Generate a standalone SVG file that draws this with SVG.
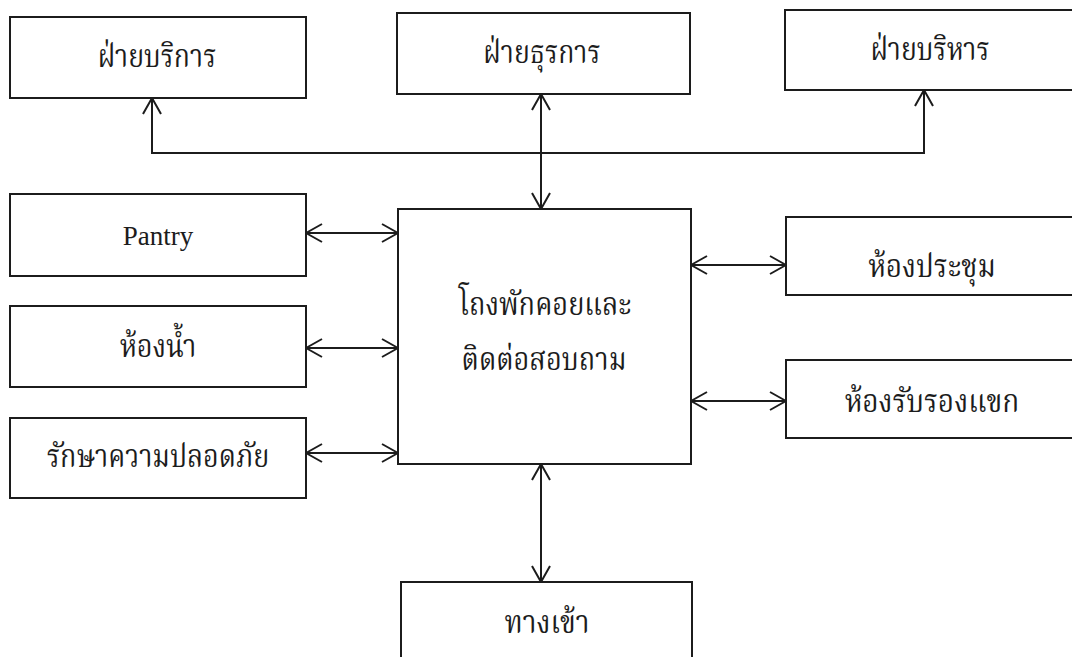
<svg xmlns="http://www.w3.org/2000/svg" width="1072" height="657" viewBox="0 0 1072 657">
  <style>
    .box { fill: #ffffff; stroke: #1c1c1c; stroke-width: 2; }
    .lbl { font-family: "Noto Serif Thai", "Noto Sans Thai", "Liberation Serif", serif; font-size: 28px; fill: #1c1c1c; text-anchor: middle; }
    .en { font-family: "Liberation Serif", serif; font-size: 27px; fill: #1c1c1c; text-anchor: middle; }
    .link { fill: none; stroke: #1c1c1c; stroke-width: 2; marker-start: url(#v); marker-end: url(#v); }
    .bus { fill: none; stroke: #1c1c1c; stroke-width: 2; marker-start: url(#v); marker-end: url(#v); stroke-linejoin: miter; }
  </style>
  <defs>
    <!-- open "V" arrowhead, reversed at the start of a line -->
    <marker id="v" viewBox="0 0 18 20" refX="17" refY="10" markerWidth="18" markerHeight="20" markerUnits="userSpaceOnUse" orient="auto-start-reverse">
      <path d="M1,1 L17,10 L1,19" fill="none" stroke="#1c1c1c" stroke-width="2"/>
    </marker>
  </defs>
  <rect width="1072" height="657" fill="#ffffff"/>

  <!-- connectors -->
  <g id="connectors">
    <path class="bus" d="M152,98 V153 H924 V90"/>
    <path class="link" d="M541,94 V209"/>
    <path class="link" d="M306,233 H398"/>
    <path class="link" d="M306,348 H398"/>
    <path class="link" d="M306,453 H398"/>
    <path class="link" d="M691,265 H786"/>
    <path class="link" d="M691,401 H786"/>
    <path class="link" d="M541,464 V582"/>
  </g>

  <!-- Thai labels are set slightly condensed and tall -->
  <g id="service">
    <rect class="box" x="10" y="17" width="296" height="81"/>
    <text class="lbl" transform="translate(157,67) scale(0.95,1.16)">ฝ่ายบริการ</text>
  </g>
  <g id="admin">
    <rect class="box" x="397" y="13" width="293" height="81"/>
    <text class="lbl" transform="translate(542,63) scale(0.95,1.16)">ฝ่ายธุรการ</text>
  </g>
  <g id="management">
    <rect class="box" x="785" y="10" width="291" height="80"/>
    <text class="lbl" transform="translate(930,60) scale(0.95,1.16)">ฝ่ายบริหาร</text>
  </g>
  <g id="pantry">
    <rect class="box" x="10" y="194" width="296" height="82"/>
    <text class="en" x="158" y="245">Pantry</text>
  </g>
  <g id="restroom">
    <rect class="box" x="10" y="306" width="296" height="81"/>
    <text class="lbl" transform="translate(158,357) scale(0.97,1.16)">ห้องน้ำ</text>
  </g>
  <g id="security">
    <rect class="box" x="10" y="418" width="296" height="80"/>
    <text class="lbl" transform="translate(158,467) scale(0.96,1.16)">รักษาความปลอดภัย</text>
  </g>
  <g id="lobby">
    <rect class="box" x="398" y="209" width="293" height="255"/>
    <text class="lbl" transform="translate(545,315) scale(0.97,1.16)">โถงพักคอยและ</text>
    <text class="lbl" transform="translate(544,370) scale(0.97,1.16)">ติดต่อสอบถาม</text>
  </g>
  <g id="meeting">
    <rect class="box" x="786" y="217" width="290" height="78"/>
    <text class="lbl" transform="translate(932,277) scale(1,1.16)">ห้องประชุม</text>
  </g>
  <g id="reception">
    <rect class="box" x="786" y="360" width="290" height="78"/>
    <text class="lbl" transform="translate(932,412) scale(1,1.16)">ห้องรับรองแขก</text>
  </g>
  <g id="entrance">
    <rect class="box" x="401" y="582" width="291" height="90"/>
    <text class="lbl" transform="translate(547,633) scale(1,1.16)">ทางเข้า</text>
  </g>
</svg>
